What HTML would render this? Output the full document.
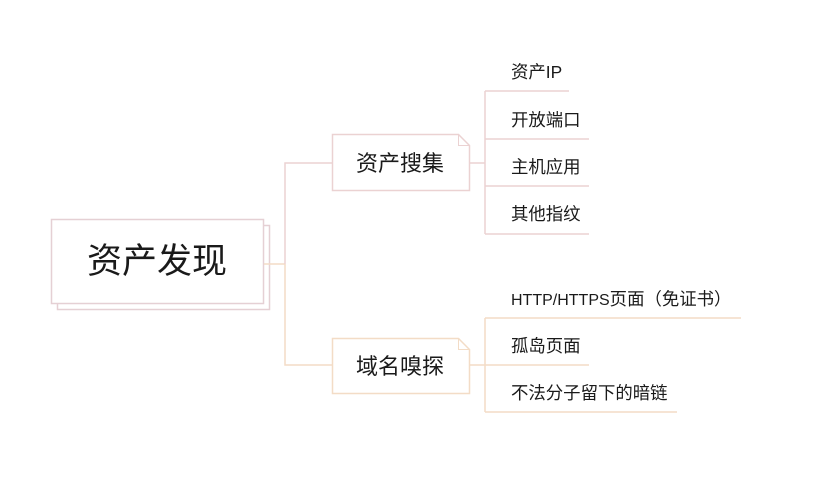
<!DOCTYPE html>
<html><head><meta charset="utf-8"><style>
body{margin:0;background:#fff;}
svg{display:block;}
text{font-family:"Liberation Sans","Noto Sans CJK SC",sans-serif;fill:#1a1a1a;}
</style></head><body>
<svg width="815" height="491" viewBox="0 0 815 491">
<rect x="57.5" y="225.5" width="212" height="84" fill="#fff" stroke="#e5d0d4" stroke-width="1.5"/>
<rect x="51.5" y="219.5" width="212" height="84" fill="#fff" stroke="#e5d0d4" stroke-width="1.5"/>
<text x="157" y="273" font-size="35" text-anchor="middle">资产发现</text>
<path d="M264 264H285" stroke="#f3dcc6" stroke-width="1.5" fill="none"/>
<path d="M285 264V163H332" stroke="#ebd2d2" stroke-width="1.5" fill="none"/>
<path d="M285 264V365H332" stroke="#f3dcc6" stroke-width="1.5" fill="none"/>
<path d="M332.5 134.5H458.5L469.5 145.5V190.5H332.5Z" fill="#fff" stroke="#ebd2d2" stroke-width="1.5"/>
<path d="M458.5 134.5V145.5H469.5" fill="none" stroke="#ebd2d2" stroke-width="1"/>
<text x="400" y="171" font-size="22" text-anchor="middle">资产搜集</text>
<path d="M332.5 338.5H458.5L469.5 349.5V393.5H332.5Z" fill="#fff" stroke="#f3dcc6" stroke-width="1.5"/>
<path d="M458.5 338.5V349.5H469.5" fill="none" stroke="#f3dcc6" stroke-width="1"/>
<text x="400" y="374" font-size="22" text-anchor="middle">域名嗅探</text>
<g stroke="#ebd2d2" stroke-width="1.5" fill="none">
<path d="M470 163H485M485 91V234M485 91H569M485 139H589M485 186H589M485 234H589"/>
</g>
<g stroke="#f3dcc6" stroke-width="1.5" fill="none">
<path d="M470 365H485M485 318V412M485 318H741M485 365H589M485 412H677"/>
</g>
<g font-size="17.4">
<text x="511" y="78">资产IP</text>
<text x="511" y="126">开放端口</text>
<text x="511" y="173">主机应用</text>
<text x="511" y="220">其他指纹</text>
<text x="511" y="305"><tspan font-size="16">HTTP/HTTPS</tspan>页面（免证书）</text>
<text x="511" y="352">孤岛页面</text>
<text x="511" y="399">不法分子留下的暗链</text>
</g>
</svg>
</body></html>
